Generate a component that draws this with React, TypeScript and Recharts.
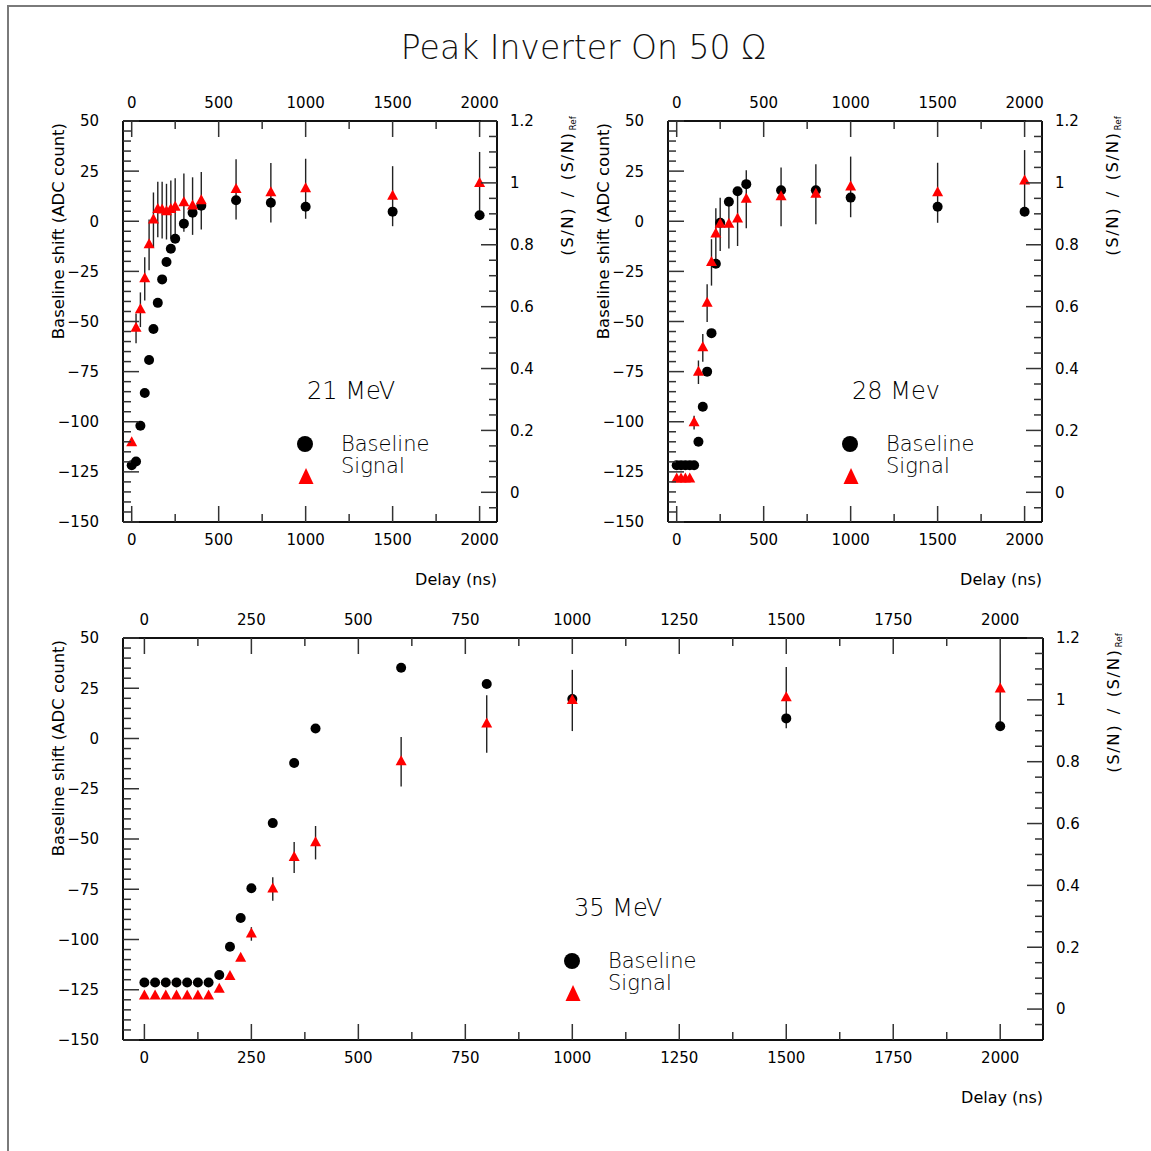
import { ErrorBar, Legend, Scatter, ScatterChart, XAxis, YAxis } from 'recharts'

// delay points (ns), shared by all three energies
const delays = [0, 25, 50, 75, 100, 125, 150, 175, 200, 225, 250, 300, 350, 400, 600, 800, 1000, 1500, 2000]

// 21 MeV
const baseline21 = [-121.7, -119.8, -102, -85.7, -69.2, -53.7, -40.7, -29, -20.3, -13.7, -8.7, -1.2, 4.2, 7.7, 10.5, 9.2, 7.2, 4.8, 3]
const signal21 = [0.16, 0.53, 0.59, 0.69, 0.8, 0.88, 0.914, 0.912, 0.907, 0.914, 0.921, 0.936, 0.925, 0.942, 0.979, 0.968, 0.981, 0.957, 0.998]
const signalErr21 = [0, 0.048, 0.056, 0.07, 0.082, 0.089, 0.09, 0.092, 0.09, 0.094, 0.094, 0.094, 0.093, 0.093, 0.097, 0.096, 0.097, 0.097, 0.102]

// 28 MeV
const baseline28 = [-121.7, -121.7, -121.7, -121.7, -121.7, -110, -92.5, -75, -55.8, -21.2, -0.8, 9.7, 15, 18.5, 15.5, 15.5, 11.8, 7.2, 4.7]
const signal28 = [0.043, 0.043, 0.043, 0.043, 0.225, 0.388, 0.467, 0.611, 0.743, 0.835, 0.866, 0.866, 0.883, 0.947, 0.955, 0.963, 0.987, 0.968, 1.006]
const signalErr28 = [0, 0, 0, 0, 0.022, 0.038, 0.045, 0.061, 0.075, 0.083, 0.086, 0.078, 0.087, 0.094, 0.095, 0.097, 0.098, 0.097, 0.1]

// 35 MeV
const baseline35 = [-121.4, -121.4, -121.4, -121.4, -121.4, -121.4, -121.4, -117.7, -103.6, -89.3, -74.5, -42.1, -12.2, 5, 35.2, 27.1, 19.6, 10, 6.1]
const signal35 = [0.042, 0.042, 0.042, 0.042, 0.042, 0.042, 0.042, 0.064, 0.105, 0.164, 0.243, 0.388, 0.49, 0.538, 0.8, 0.922, 0.998, 1.007, 1.035]
const signalErr35 = [0, 0, 0, 0, 0, 0, 0, 0, 0, 0, 0.022, 0.038, 0.05, 0.054, 0.08, 0.093, 0.099, 0.099, 0.113]

const legendLabels = ['Baseline', 'Signal']

const steps = (from: number, to: number, step: number) =>
  Array.from({ length: Math.round((to - from) / step) + 1 }, (_, i) => +(from + i * step).toFixed(3))

const delayTicksNarrow = steps(0, 2000, 250)
const delayTicksWide = steps(0, 2000, 125)
const shiftTicks = steps(-150, 50, 5)
const ratioTicks = steps(-0.05, 1.2, 0.05)

const TICK_FONT = '"DejaVu Sans", Verdana, sans-serif'
const THIN_FONT = '"DejaVu Sans", sans-serif'
const AW = 80 // y axis band width
const AH = 40 // x axis band height
const AXIS = { stroke: '#111', strokeWidth: 2 }

type Side = 'left' | 'right' | 'top' | 'bottom'

const onStep = (v: number, step: number) => Math.abs(v / step - Math.round(v / step)) < 1e-6
const fmtShift = (v: number) => (v < 0 ? `\u2212${-v}` : `${v}`)
const fmtRatio = (v: number) => `${+v.toFixed(1)}`
const fmtDelay = (v: number) => `${v}`

function makeTick(side: Side, step: number, fmt: (v: number) => string) {
  return (props: any) => {
    const { x, y, payload } = props
    const v = payload.value as number
    const major = onStep(v, step)
    const len = major ? 16 : 8
    let x2 = x
    let y2 = y
    let tx = x
    let ty = y
    let anchor: 'start' | 'middle' | 'end' = 'middle'
    if (side === 'left') {
      x2 = x + len
      tx = x - 24
      anchor = 'end'
    } else if (side === 'right') {
      x2 = x - len
      tx = x + 13
      anchor = 'start'
    } else if (side === 'top') {
      y2 = y + len
      ty = y - 18
    } else {
      y2 = y - len
      ty = y + 18
    }
    return (
      <g>
        <line x1={x} y1={y} x2={x2} y2={y2} stroke="#333" strokeWidth={1.5} />
        {major && (
          <text x={tx} y={ty} dy="0.36em" textAnchor={anchor} fontFamily={TICK_FONT} fontSize={15} fill="#000">
            {fmt(v)}
          </text>
        )}
      </g>
    )
  }
}

const Dot = (p: any) => <circle cx={p.cx} cy={p.cy} r={5} fill="#000" />
const Tri = (p: any) => (
  <polygon points={`${p.cx},${p.cy - 6.5} ${p.cx - 5.5},${p.cy + 3.5} ${p.cx + 5.5},${p.cy + 3.5}`} fill="#ff0000" />
)

function LegendBox() {
  return (
    <svg width={170} height={70} style={{ overflow: 'visible' }}>
      <circle cx={12} cy={23} r={8} fill="#000" />
      <polygon points="13,47 5.5,63 20.5,63" fill="#ff0000" />
      <text x={48} y={30} fontFamily={THIN_FONT} fontWeight={200} fontSize={21} fill="#000">
        {legendLabels[0]}
      </text>
      <text x={48} y={52} fontFamily={THIN_FONT} fontWeight={200} fontSize={21} fill="#000">
        {legendLabels[1]}
      </text>
    </svg>
  )
}

type PanelProps = {
  baseline: number[]
  signal: number[]
  signalErr: number[]
  energy: string
  plotLeft: number
  plotTop: number
  plotW: number
  plotH: number
  xTicks: number[]
  xStep: number
  ratioMin: number
  annotX: number
}

function Panel(p: PanelProps) {
  const W = p.plotW + 2 * AW
  const H = p.plotH + 2 * AH
  const baseRows = delays.map((d, i) => ({ delay: d, y: p.baseline[i] }))
  const sigRows = delays.map((d, i) => ({ delay: d, y: p.signal[i], err: p.signalErr[i] }))
  const xTop = makeTick('top', p.xStep, fmtDelay)
  const xBottom = makeTick('bottom', p.xStep, fmtDelay)
  const rx = AW + p.plotW + 76

  return (
    <div style={{ position: 'absolute', left: p.plotLeft - AW, top: p.plotTop - AH, width: W, height: H }}>
      <ScatterChart width={W} height={H} margin={{ top: 0, right: 0, bottom: 0, left: 0 }}>
        <XAxis xAxisId="b" orientation="bottom" type="number" dataKey="delay" domain={[-50, 2100]} allowDataOverflow
          ticks={p.xTicks} interval={0} height={AH} tickSize={0} tickMargin={0} tickLine={false} axisLine={AXIS} tick={xBottom} />
        <XAxis xAxisId="t" orientation="top" type="number" dataKey="delay" domain={[-50, 2100]} allowDataOverflow
          ticks={p.xTicks} interval={0} height={AH} tickSize={0} tickMargin={0} tickLine={false} axisLine={AXIS} tick={xTop} />
        <YAxis yAxisId="l" orientation="left" type="number" dataKey="y" domain={[-150, 50]} allowDataOverflow
          ticks={shiftTicks} interval={0} width={AW} tickSize={0} tickMargin={0} tickLine={false} axisLine={AXIS}
          tick={makeTick('left', 25, fmtShift)} />
        <YAxis yAxisId="r" orientation="right" type="number" dataKey="y" domain={[p.ratioMin, 1.2]} allowDataOverflow
          ticks={ratioTicks} interval={0} width={AW} tickSize={0} tickMargin={0} tickLine={false} axisLine={AXIS}
          tick={makeTick('right', 0.2, fmtRatio)} />
        <Scatter name="Baseline" data={baseRows} xAxisId="b" yAxisId="l" shape={Dot} isAnimationActive={false} />
        <Scatter name="Signal" data={sigRows} xAxisId="b" yAxisId="r" shape={Tri} isAnimationActive={false}>
          <ErrorBar dataKey="err" direction="y" width={0} stroke="#222" strokeWidth={1.4} />
        </Scatter>
        <Legend layout="vertical" align="center" verticalAlign="middle" content={LegendBox}
          wrapperStyle={{ left: AW + p.annotX - 12, top: AH + 300, width: 170, height: 70 }} />
      </ScatterChart>
      <svg width={W} height={H} style={{ position: 'absolute', left: 0, top: 0, overflow: 'visible', pointerEvents: 'none' }}>
        <text x={AW - 59} y={AH + 2} transform={`rotate(-90 ${AW - 59} ${AH + 2})`} textAnchor="end"
          fontFamily={TICK_FONT} fontSize={16.5} fill="#000">
          Baseline shift (ADC count)
        </text>
        <text x={rx} y={AH - 5} transform={`rotate(-90 ${rx} ${AH - 5})`} textAnchor="end"
          fontFamily={TICK_FONT} fontSize={16.5} letterSpacing={1.5} fill="#000">
          {'(S/N)\u2002/\u2002(S/N)'}
          <tspan fontSize={9} letterSpacing={0} dx={1} dy={3}>Ref</tspan>
        </text>
        <text x={AW + p.plotW} y={AH + p.plotH + 63} textAnchor="end" fontFamily={TICK_FONT} fontSize={16} fill="#000">
          Delay (ns)
        </text>
        <text x={AW + p.annotX + 2} y={AH + 278} fontFamily={THIN_FONT} fontWeight={200} fontSize={24} fill="#000">
          {p.energy}
        </text>
      </svg>
    </div>
  )
}

export default function App() {
  return (
    <div style={{ position: 'absolute', left: 0, top: 0, width: 1151, height: 1151, background: '#fff', overflow: 'hidden' }}>
      <div style={{ position: 'absolute', left: 7, top: 5, width: 1144, height: 1146, borderTop: '2px solid #7a7a7a', borderLeft: '2px solid #7a7a7a' }} />
      <div style={{ position: 'absolute', left: 0, top: 31, width: 1167, textAlign: 'center', fontFamily: THIN_FONT, fontWeight: 200, fontSize: 33, lineHeight: '33px', color: '#111' }}>
        Peak Inverter On 50 Ω
      </div>
      <Panel baseline={baseline21} signal={signal21} signalErr={signalErr21} energy="21 MeV"
        plotLeft={123} plotTop={121} plotW={374} plotH={401} xTicks={delayTicksNarrow} xStep={500} ratioMin={-0.096} annotX={182} />
      <Panel baseline={baseline28} signal={signal28} signalErr={signalErr28} energy="28 Mev"
        plotLeft={668} plotTop={121} plotW={374} plotH={401} xTicks={delayTicksNarrow} xStep={500} ratioMin={-0.096} annotX={182} />
      <Panel baseline={baseline35} signal={signal35} signalErr={signalErr35} energy="35 MeV"
        plotLeft={123} plotTop={638} plotW={920} plotH={402} xTicks={delayTicksWide} xStep={250} ratioMin={-0.1} annotX={449} />
    </div>
  )
}
